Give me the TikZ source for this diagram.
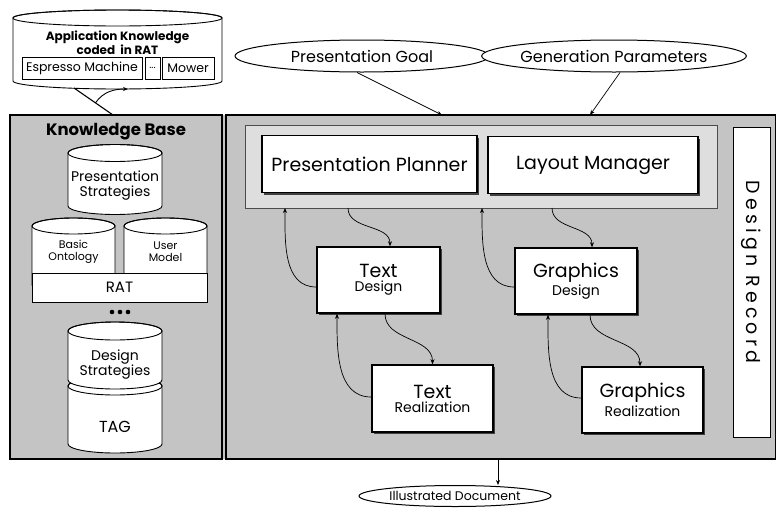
\documentclass[tikz,border=0pt]{standalone}
\usepackage{fontspec}
\setmainfont{Poppins}
\usetikzlibrary{shadows,arrows.meta,calc,shapes.geometric}

\definecolor{halftone}{gray}{0.77}
\definecolor{planfill}{gray}{0.87}

\newcommand\fsz[2]{\fontsize{#1}{#2}\selectfont}

% drum (database cylinder): left x, right x, top centre y, bottom centre y, ellipse half-height
\newcommand\drum[5]{%
  \pgfmathsetmacro\dcx{(#1+#2)/2}%
  \pgfmathsetmacro\drx{(#2-#1)/2}%
  \filldraw[drumline] (#1,#3) -- (#1,#4)
     arc[start angle=180,end angle=360,x radius=\drx pt,y radius=#5pt]
     -- (#2,#3)
     arc[start angle=0,end angle=180,x radius=\drx pt,y radius=#5pt] -- cycle;
  \draw[line width=0.9pt] (\dcx,#3) ellipse[x radius=\drx pt, y radius=#5pt];
}

\tikzset{
  x=1pt, y=1pt,
  panel/.style={draw, line width=1.6pt, outer sep=0pt, inner sep=0pt},
  procbox/.style={draw, line width=1.5pt, fill=white, inner sep=0pt, align=center,
    drop shadow={shadow xshift=2.2pt, shadow yshift=-2.2pt, fill=black!75, opacity=1}},
  oval/.style={draw, ellipse, line width=1pt, fill=white, inner sep=0pt},
  arr/.style={-{Stealth[length=5pt,width=4pt]}, line width=0.7pt},
  drumline/.style={line width=0.9pt, fill=white},
  drumtext/.style={align=center, inner sep=0pt},
  itembox/.style={draw, line width=0.8pt, fill=white, inner sep=0pt, minimum height=22pt},
}

\begin{document}
\begin{tikzpicture}
\path[use as bounding box, fill=white] (0,0) rectangle (776,-509);

% ---- application knowledge store ----
\drum{13}{222}{-18}{-81}{8}
\node[drumtext, font=\bfseries\fsz{12}{12.5}] (akt) at (117.5,-43) {Application Knowledge\\coded~~in RAT};
\node[itembox, minimum width=120pt] (esp) at (82,-68) {\fsz{12.5}{14}Espresso Machine};
\node[itembox, minimum width=15pt] (etc) at (152.5,-68) {\fsz{10}{12}...};
\node[itembox, minimum width=52pt] (mow) at (188,-68) {\fsz{12.5}{14}Mower};

% ---- panels ----
\fill[halftone] (10,-115) rectangle (776,-459);
\node[panel, minimum width=212pt, minimum height=344pt, anchor=north west] (kbp) at (10,-115) {};
\node[panel, minimum width=550pt, minimum height=344pt, anchor=north west] (mainp) at (226,-115) {};

% link between the application store and the knowledge base
\coordinate (akfoot) at (74,-88);
\coordinate (akin) at (128,-89);
\coordinate (kbtop) at ([xshift=-3pt]kbp.north);
\draw[line width=1.1pt] (kbtop) -- (akfoot);
\coordinate (ajoin) at ($(kbtop)!0.45!(akfoot)$);
\draw[arr, line width=0.9pt] (ajoin) to[out=55,in=180] (akin);

% ---- knowledge base ----
\node[font=\bfseries\fsz{16.5}{18}] (kbt) at (116,-132) {Knowledge Base};

\drum{68}{162}{-153}{-206}{8.5}
\node[drumtext, font=\fsz{14}{15}] (pst) at (115,-185.5) {Presentation\\Strategies};

\drum{32}{115}{-226}{-285}{8}
\drum{124}{207}{-226}{-285}{8}
\node[drumtext, font=\fsz{11}{12}] (bo) at (73.5,-252) {Basic\\Ontology};
\node[drumtext, font=\fsz{11}{12}] (um) at (165.5,-252) {User\\Model};
\node[draw, fill=white, line width=0.9pt, minimum width=175pt, minimum height=29pt,
      anchor=north west, outer sep=0pt, inner sep=0pt, font=\fsz{15}{16}] (rat) at (32,-273) {RAT};

\foreach \i in {-8,0,8} \fill (120+\i,-312) circle[radius=2.3pt];

\drum{68}{162}{-386}{-444}{9}
\drum{68}{162}{-331}{-380}{9}
\node[drumtext, font=\fsz{14}{15}] (dst) at (115,-364.5) {Design\\Strategies};
\node[drumtext, font=\fsz{16}{17}] (tag) at (115,-427) {TAG};

% ---- presentation planning ----
\node[draw=black!70, line width=0.8pt, fill=planfill, minimum width=472pt, minimum height=83pt,
      anchor=north west, outer sep=0pt, inner sep=0pt] (pframe) at (245,-125) {};
\node[procbox, minimum width=215pt, minimum height=57pt, font=\fsz{19}{21}] (pp) at (369.5,-164) {Presentation Planner};
\node[procbox, minimum width=210pt, minimum height=57pt, font=\fsz{19}{21}] (lm) at (593,-165) {Layout Manager};

\node[procbox, minimum width=123pt, minimum height=66pt] (td) at (378.5,-280)
  {{\fsz{19}{21}Text}\\[2pt]{\fsz{14}{15}Design}};
\node[procbox, minimum width=122pt, minimum height=66pt] (gd) at (576,-281)
  {{\fsz{19}{21}Graphics}\\[2pt]{\fsz{14}{15}Design}};
\node[procbox, minimum width=121pt, minimum height=67pt] (tr) at (432.5,-398.5)
  {{\fsz{19}{21}Text}\\[2pt]{\fsz{14}{15}Realization}};
\node[procbox, minimum width=121pt, minimum height=66pt] (gr) at (642.5,-400)
  {{\fsz{19}{21}Graphics}\\[2pt]{\fsz{14}{15}Realization}};

% design record column
\node[draw, fill=white, line width=1pt, minimum width=37pt, minimum height=310pt,
      inner sep=0pt] (dr) at (751.5,-282) {};
\node[rotate=-90, inner sep=0pt, font=\fsz{19}{21}\addfontfeatures{LetterSpace=22}] (drt)
      at ([yshift=10pt]dr.center) {Design Record};

% planner <-> design
\draw[arr] ([xshift=-133pt]pframe.south) to[out=-90,in=90] ([xshift=11.5pt]td.north);
\draw[arr] ([yshift=-7pt]td.west) to[out=180,in=-90] ([xshift=-196pt]pframe.south);
\draw[arr] ([xshift=71pt]pframe.south) to[out=-90,in=90] ([xshift=16pt]gd.north);
\draw[arr] ([yshift=-6pt]gd.west) to[out=180,in=-90] ([xshift=1pt]pframe.south);

% design <-> realization
\draw[arr] ([xshift=6.5pt]td.south) to[out=-90,in=90] (tr.north);
\draw[arr] ([yshift=1.5pt]tr.west) to[out=180,in=-90] ([xshift=-41.5pt]td.south);
\draw[arr] ([xshift=14pt]gd.south) to[out=-90,in=90] ([xshift=-2.5pt]gr.north);
\draw[arr] ([yshift=2pt]gr.west) to[out=180,in=-90] ([xshift=-28pt]gd.south);

% ---- inputs and output ----
\node[oval, minimum width=254pt, minimum height=32pt, font=\fsz{16}{18}] (pg) at (362,-56) {Presentation Goal};
\node[oval, minimum width=242pt, minimum height=32pt, font=\fsz{16}{18}] (gp) at (614,-56) {Generation Parameters};
\draw[arr] ([xshift=-5pt]pg.south) -- ([xshift=-59pt]mainp.north);
\draw[arr] ([xshift=6pt]gp.south) -- ([xshift=89pt]mainp.north);

\node[oval, minimum width=192pt, minimum height=21pt, font=\fsz{12.5}{14}] (idoc) at (455,-496) {Illustrated Document};
\draw[arr] ([xshift=-3pt]mainp.south) -- ([xshift=-3pt]mainp.south |- idoc.north);
\end{tikzpicture}
\end{document}
